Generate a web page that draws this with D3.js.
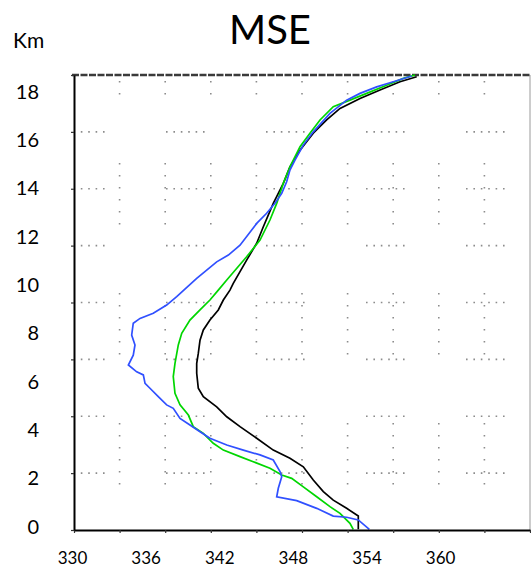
<!DOCTYPE html>
<html>
<head>
<meta charset="utf-8">
<script src="https://cdn.jsdelivr.net/npm/d3@7"></script>
<style>
  body { margin: 0; background: #fff; }
  text { font-family: Lato, "Open Sans", sans-serif; fill: #000; }
</style>
</head>
<body>
<div id="chart"></div>
<script>
// tick labels
var kmTicks = [0, 2, 4, 6, 8, 10, 12, 14, 16, 18];
var mseTicks = [330, 336, 342, 348, 354, 360];

// black profile (height in km, MSE)
var blackKm  = [-0.11, 0.44, 0.76, 1.10, 1.45, 1.93, 2.48, 2.83, 3.17, 3.66, 4.14, 4.55, 4.96, 5.38, 5.73, 6.35, 6.76, 7.17, 7.72, 8.14, 8.55, 8.97, 9.38, 9.79, 10.07, 11.03, 11.73, 12.41, 13.38, 14.21, 14.89, 15.58, 16.28, 16.83, 17.31, 17.72, 18.07, 18.41, 18.62];
var blackMse = [353.17, 353.17, 352.22, 351.13, 350.32, 349.50, 348.69, 347.60, 346.24, 344.89, 343.53, 342.45, 341.63, 340.54, 340.13, 340.0, 340.0, 340.13, 340.27, 340.54, 341.08, 341.76, 342.17, 342.71, 342.98, 344.07, 344.89, 345.43, 346.24, 347.06, 347.60, 348.42, 349.50, 350.59, 351.68, 353.31, 354.94, 356.57, 357.93];

// green profile
var greenKm  = [-0.11, 0.14, 0.55, 0.83, 1.24, 1.65, 2.00, 2.14, 2.42, 2.69, 2.90, 3.17, 3.45, 3.86, 4.14, 4.62, 5.04, 5.52, 6.21, 6.76, 7.52, 8.00, 8.55, 8.97, 9.38, 9.79, 10.21, 11.17, 11.86, 12.69, 13.38, 14.21, 14.89, 15.72, 16.28, 16.83, 17.38, 17.65, 17.93, 18.27, 18.55, 18.69];
var greenMse = [352.76, 352.49, 351.68, 350.86, 349.78, 348.69, 347.74, 346.93, 345.97, 344.61, 343.53, 342.17, 341.35, 340.54, 339.72, 339.32, 338.64, 338.23, 338.09, 338.23, 338.50, 338.78, 339.45, 340.27, 341.08, 341.76, 342.45, 344.07, 345.16, 345.97, 346.52, 347.06, 347.60, 348.42, 349.23, 350.05, 351.13, 352.49, 353.85, 355.48, 356.84, 357.79];

// blue profile
var blueKm  = [-0.11, 0.28, 0.39, 0.44, 0.76, 1.08, 1.24, 1.59, 2.07, 2.28, 2.76, 2.97, 3.17, 3.38, 3.66, 3.93, 4.21, 4.48, 4.90, 5.04, 5.38, 5.73, 5.93, 6.28, 6.41, 6.69, 7.10, 7.52, 7.93, 8.42, 8.62, 8.83, 9.17, 9.52, 10.28, 10.96, 11.24, 11.65, 12.55, 12.97, 13.38, 13.79, 14.27, 14.76, 15.17, 15.79, 16.34, 17.10, 17.65, 17.93, 18.20, 18.41, 18.65];
var blueMse = [354.07, 353.17, 352.22, 351.13, 349.78, 348.15, 346.52, 346.65, 346.93, 346.79, 346.24, 345.16, 343.80, 342.45, 341.08, 340.27, 339.45, 338.64, 338.09, 337.55, 336.87, 336.19, 335.79, 335.65, 335.11, 334.43, 334.83, 334.97, 334.70, 334.83, 335.38, 336.46, 337.55, 338.37, 340.0, 341.63, 342.58, 343.53, 344.89, 345.70, 346.38, 346.93, 347.33, 347.60, 348.01, 348.69, 349.50, 350.86, 352.22, 353.31, 354.67, 356.02, 357.52];

var series = [
  {color: "#000000", km: blackKm, mse: blackMse},
  {color: "#00d600", km: greenKm, mse: greenMse},
  {color: "#3050ff", km: blueKm, mse: blueMse}
];

var width = 531, height = 569;
var plotLeft = 74, plotRight = 530, plotTop = 75, plotBottom = 530;

var svg = d3.select("#chart")
  .append("svg")
    .attr("width", width)
    .attr("height", height);

// data scales
var x = d3.scaleLinear()
  .domain([330, 330 + (plotRight - plotLeft) / 12.27])
  .range([plotLeft, plotRight]);
var y = d3.scaleLinear()
  .domain([0, 18])
  .range([526.7, 91.7]);

// frame scales (the plot's own grid, 10 x 8 cells)
var fx = d3.scaleLinear().domain([0, 10]).range([plotLeft, plotRight]);
var fy = d3.scaleLinear().domain([0, 8]).range([plotBottom, plotTop]);

// dotted grid
svg.append("g")
  .selectAll("line")
  .data(d3.range(1, 10))
  .enter().append("line")
    .attr("x1", function(d) { return fx(d); })
    .attr("x2", function(d) { return fx(d); })
    .attr("y1", plotTop)
    .attr("y2", plotBottom)
    .attr("stroke", "#8c8c8c")
    .attr("stroke-width", 1.6)
    .attr("stroke-dasharray", "1.6,10.4,1.6,10.4,1.6,10.4,1.6,10.4,1.6,10.4,1.6,68.4")
    .attr("stroke-dashoffset", 42);

svg.append("g")
  .selectAll("line")
  .data(d3.range(1, 8))
  .enter().append("line")
    .attr("y1", function(d) { return fy(d); })
    .attr("y2", function(d) { return fy(d); })
    .attr("x1", plotLeft)
    .attr("x2", plotRight)
    .attr("stroke", "#8c8c8c")
    .attr("stroke-width", 1.6)
    .attr("stroke-dasharray", "1.6,5.8,1.6,5.8,1.6,5.8,1.6,5.8,1.6,5.8,1.6,61.4")
    .attr("stroke-dashoffset", 8);

// right and top border
svg.append("line")
  .attr("x1", plotRight).attr("x2", plotRight)
  .attr("y1", plotTop).attr("y2", plotBottom)
  .attr("stroke", "#9a9a9a")
  .attr("stroke-width", 1);
svg.append("line")
  .attr("x1", plotLeft - 2).attr("x2", width)
  .attr("y1", plotTop).attr("y2", plotTop)
  .attr("stroke", "#3a3a3a")
  .attr("stroke-width", 2.6)
  .attr("stroke-dasharray", "7,1.5");

// the profiles
var line = d3.line()
  .x(function(d) { return x(d[1]); })
  .y(function(d) { return y(d[0]); });

series.forEach(function(s) {
  svg.append("path")
    .datum(d3.zip(s.km, s.mse))
    .attr("fill", "none")
    .attr("stroke", s.color)
    .attr("stroke-width", 1.7)
    .attr("d", line);
});

// frame axes with small ticks
var bottomAxis = svg.append("g")
  .attr("transform", "translate(0," + plotBottom + ")")
  .call(d3.axisBottom(fx).ticks(10).tickSize(3).tickSizeOuter(0).tickFormat(""));
var leftAxis = svg.append("g")
  .attr("transform", "translate(" + plotLeft + ",0)")
  .call(d3.axisLeft(fy).ticks(8).tickSize(3).tickSizeOuter(0).tickFormat(""));
[bottomAxis, leftAxis].forEach(function(a) {
  a.select(".domain").attr("stroke", "#000").attr("stroke-width", 2);
  a.selectAll(".tick line").attr("stroke", "#333").attr("stroke-width", 1.2);
});

// value labels
var yLabels = svg.append("g")
  .attr("transform", "translate(42,0)")
  .call(d3.axisLeft(y).tickValues(kmTicks).tickSize(0).tickPadding(3).tickFormat(d3.format("d")));
yLabels.select(".domain").remove();
yLabels.selectAll("text")
  .style("font-family", "Lato, sans-serif")
  .style("font-size", "20px");

var xLabels = svg.append("g")
  .attr("transform", "translate(-2,552)")
  .call(d3.axisBottom(x).tickValues(mseTicks).tickSize(0).tickPadding(0).tickFormat(d3.format("d")));
xLabels.select(".domain").remove();
xLabels.selectAll("text")
  .style("font-family", "Lato, sans-serif")
  .style("font-size", "17px");

// title and unit
svg.append("text")
  .attr("x", 270)
  .attr("y", 44)
  .style("text-anchor", "middle")
  .style("font-size", "40px")
  .text("MSE");

svg.append("text")
  .attr("x", 13)
  .attr("y", 48)
  .style("font-size", "21px")
  .text("Km");
</script>
</body>
</html>
